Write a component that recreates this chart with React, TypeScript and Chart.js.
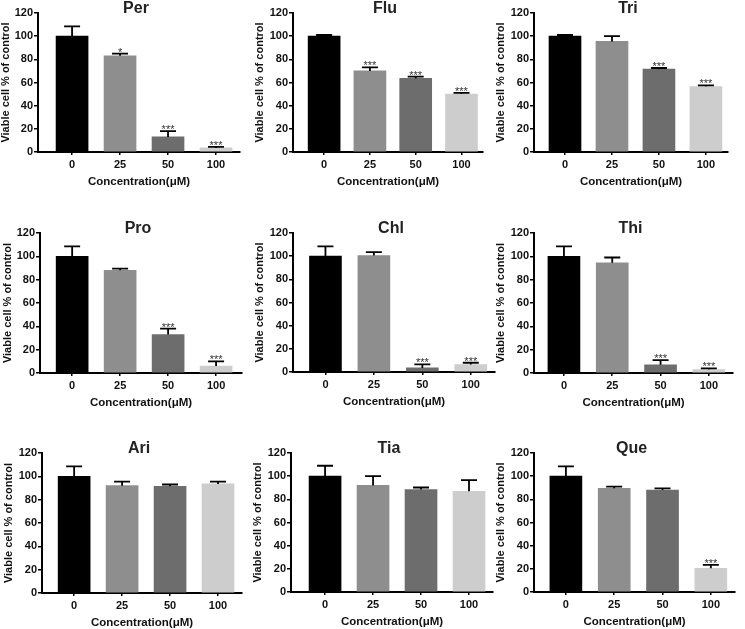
import React, { useEffect, useRef } from "react";
import { Chart, registerables } from "chart.js";

Chart.register(...registerables);

// ---------- data ----------
const CONCENTRATIONS = ["0", "25", "50", "100"];
const Y_TICKS = [0, 20, 40, 60, 80, 100, 120];
const PANEL_NAMES = ["Per", "Flu", "Tri", "Pro", "Chl", "Thi", "Ari", "Tia", "Que"];

const PER_MEAN = [100, 83, 13, 3.5];
const PER_ERR = [8.5, 2, 5, 1];
const PER_SIG = ["", "*", "***", "***"];

const FLU_MEAN = [100, 70, 63.5, 50];
const FLU_ERR = [1, 3, 1.5, 1];
const FLU_SIG = ["", "***", "***", "***"];

const TRI_MEAN = [100, 95.5, 71.5, 56.5];
const TRI_ERR = [1, 4.5, 1, 1];
const TRI_SIG = ["", "", "***", "***"];

const PRO_MEAN = [100, 88, 33, 6];
const PRO_ERR = [8.5, 1.5, 5, 4];
const PRO_SIG = ["", "", "***", "***"];

const CHL_MEAN = [100, 100.5, 3.5, 6.5];
const CHL_ERR = [8.5, 3, 3, 1.5];
const CHL_SIG = ["", "", "***", "***"];

const THI_MEAN = [100, 94.5, 7, 3];
const THI_ERR = [8.5, 4.5, 4, 1];
const THI_SIG = ["", "", "***", "***"];

const ARI_MEAN = [100, 92, 91.5, 93.5];
const ARI_ERR = [8.5, 3.5, 1.5, 2];
const ARI_SIG = ["", "", "", ""];

const TIA_MEAN = [100, 92, 88.5, 87];
const TIA_ERR = [9, 8, 1.7, 9.5];
const TIA_SIG = ["", "", "", ""];

const QUE_MEAN = [100, 89.5, 88, 20.5];
const QUE_ERR = [8.5, 1.5, 1.5, 3];
const QUE_SIG = ["", "", "", "***"];

const MEANS = [PER_MEAN, FLU_MEAN, TRI_MEAN, PRO_MEAN, CHL_MEAN, THI_MEAN, ARI_MEAN, TIA_MEAN, QUE_MEAN];
const ERRS = [PER_ERR, FLU_ERR, TRI_ERR, PRO_ERR, CHL_ERR, THI_ERR, ARI_ERR, TIA_ERR, QUE_ERR];
const SIGS = [PER_SIG, FLU_SIG, TRI_SIG, PRO_SIG, CHL_SIG, THI_SIG, ARI_SIG, TIA_SIG, QUE_SIG];

const Y_TITLE = "Viable cell % of control";
const X_TITLE = "Concentration(μM)";

// ---------- layout & style ----------
const BAR_COLORS = ["#000000", "#8e8e8e", "#6d6d6d", "#cdcdcd"];
const FONT = "'Liberation Sans', Arial, Helvetica, sans-serif";
// chart area: left, right, top (y=120), bottom (y=0), x range
const LAYOUT = [
  { L: 38, R: 240, T: 13, B: 152, xMin: -0.71, xMax: 3.5, yt: 1 },
  { L: 293, R: 483, T: 13, B: 152, xMin: -0.68, xMax: 3.47, yt: 0 },
  { L: 534, R: 728, T: 13, B: 152, xMin: -0.66, xMax: 3.47, yt: 0 },
  { L: 40, R: 242, T: 233, B: 373, xMin: -0.67, xMax: 3.54, yt: 1 },
  { L: 293, R: 495, T: 233, B: 372, xMin: -0.67, xMax: 3.5, yt: 0 },
  { L: 534, R: 733, T: 233, B: 373, xMin: -0.62, xMax: 3.5, yt: 0 },
  { L: 42, R: 242, T: 453, B: 593, xMin: -0.67, xMax: 3.5, yt: 0 },
  { L: 291, R: 493, T: 453, B: 592, xMin: -0.71, xMax: 3.5, yt: 0 },
  { L: 534, R: 735, T: 453, B: 592, xMin: -0.66, xMax: 3.5, yt: 0 },
];
const Y_AXIS_W = 40;
const X_AXIS_H = 40;
const PAD_TOP = 18;
const PAD_RIGHT = 6;

function Panel({ idx }: { idx: number }) {
  const ref = useRef<HTMLCanvasElement | null>(null);
  const lay = LAYOUT[idx];
  const width = lay.R - lay.L + Y_AXIS_W + PAD_RIGHT;
  const height = lay.B - lay.T + PAD_TOP + X_AXIS_H;

  useEffect(() => {
    if (!ref.current) return;
    const means = MEANS[idx];
    const errs = ERRS[idx];
    const sigs = SIGS[idx];
    const name = PANEL_NAMES[idx];

    const overlay = {
      id: "errAndTitle",
      afterDatasetsDraw(chart: any) {
        const ctx = chart.ctx;
        const meta = chart.getDatasetMeta(0);
        const ys = chart.scales.y;
        ctx.save();
        meta.data.forEach((bar: any, i: number) => {
          const x = bar.x;
          const yBar = bar.y;
          const yTop = ys.getPixelForValue(means[i] + errs[i]);
          ctx.strokeStyle = "#000";
          ctx.lineWidth = 1.8;
          ctx.beginPath();
          ctx.moveTo(x, yBar);
          ctx.lineTo(x, yTop);
          ctx.moveTo(x - 8, yTop);
          ctx.lineTo(x + 8, yTop);
          ctx.stroke();
          if (sigs[i]) {
            ctx.fillStyle = "#333";
            ctx.font = `11px ${FONT}`;
            ctx.textAlign = "center";
            ctx.textBaseline = "alphabetic";
            ctx.fillText(sigs[i], x, yTop + 2);
          }
        });
        const ca = chart.chartArea;
        ctx.fillStyle = "#222";
        ctx.font = `bold 16px ${FONT}`;
        ctx.textAlign = "center";
        ctx.textBaseline = "middle";
        ctx.fillText(name, (ca.left + ca.right) / 2 - 3, ca.top - 4);
        ctx.restore();
      },
    };

    const chart = new Chart(ref.current, {
      type: "bar",
      data: {
        datasets: [
          {
            data: means.map((v, i) => ({ x: i, y: v })),
            backgroundColor: BAR_COLORS,
            borderWidth: 0,
            barThickness: 32,
          } as any,
        ],
      },
      options: {
        responsive: false,
        animation: false,
        devicePixelRatio: 1,
        layout: { padding: { top: PAD_TOP, right: PAD_RIGHT, left: 0, bottom: 0 } },
        plugins: {
          legend: { display: false },
          tooltip: { enabled: false },
          title: { display: false },
        },
        scales: {
          x: {
            type: "linear",
            offset: false,
            min: lay.xMin,
            max: lay.xMax,
            afterBuildTicks: (axis: any) => {
              axis.ticks = CONCENTRATIONS.map((_, i) => ({ value: i }));
            },
            afterFit: (axis: any) => {
              axis.height = X_AXIS_H;
            },
            ticks: {
              callback: (v: any) => CONCENTRATIONS[Math.round(Number(v))] ?? "",
              font: { family: FONT, size: 11, weight: "bold" },
              color: "#111",
              padding: 3,
              maxRotation: 0,
              autoSkip: false,
            },
            grid: {
              display: true,
              offset: false,
              drawOnChartArea: false,
              drawTicks: true,
              tickLength: 3,
              color: "#000",
              lineWidth: 1.5,
            },
            border: { display: true, color: "#000", width: 2 },
            title: {
              display: true,
              text: X_TITLE,
              font: { family: FONT, size: 11.5, weight: "bold" },
              color: "#111",
              padding: { top: 0, bottom: 3 },
            },
          },
          y: {
            type: "linear",
            min: 0,
            max: 120,
            afterBuildTicks: (axis: any) => {
              axis.ticks = Y_TICKS.map((v) => ({ value: v }));
            },
            afterFit: (axis: any) => {
              axis.width = Y_AXIS_W;
            },
            ticks: {
              font: { family: FONT, size: 11, weight: "bold" },
              color: "#111",
              padding: 1,
            },
            grid: {
              display: true,
              drawOnChartArea: false,
              drawTicks: true,
              tickLength: 4,
              color: "#000",
              lineWidth: 1.5,
            },
            border: { display: true, color: "#000", width: 2 },
            title: {
              display: true,
              text: Y_TITLE,
              font: { family: FONT, size: 11, weight: "bold" },
              color: "#111",
              padding: { top: lay.yt, bottom: 0 },
            },
          },
        },
      } as any,
      plugins: [overlay],
    });
    return () => chart.destroy();
  }, [idx]);

  return (
    <canvas
      ref={ref}
      width={width}
      height={height}
      style={{
        position: "absolute",
        left: lay.L - Y_AXIS_W,
        top: lay.T - PAD_TOP,
        width,
        height,
      }}
    />
  );
}

export default function App() {
  return (
    <div
      style={{
        position: "absolute",
        left: 0,
        top: 0,
        width: 745,
        height: 629,
        background: "#fff",
        overflow: "hidden",
      }}
    >
      {PANEL_NAMES.map((_, i) => (
        <Panel key={i} idx={i} />
      ))}
    </div>
  );
}
